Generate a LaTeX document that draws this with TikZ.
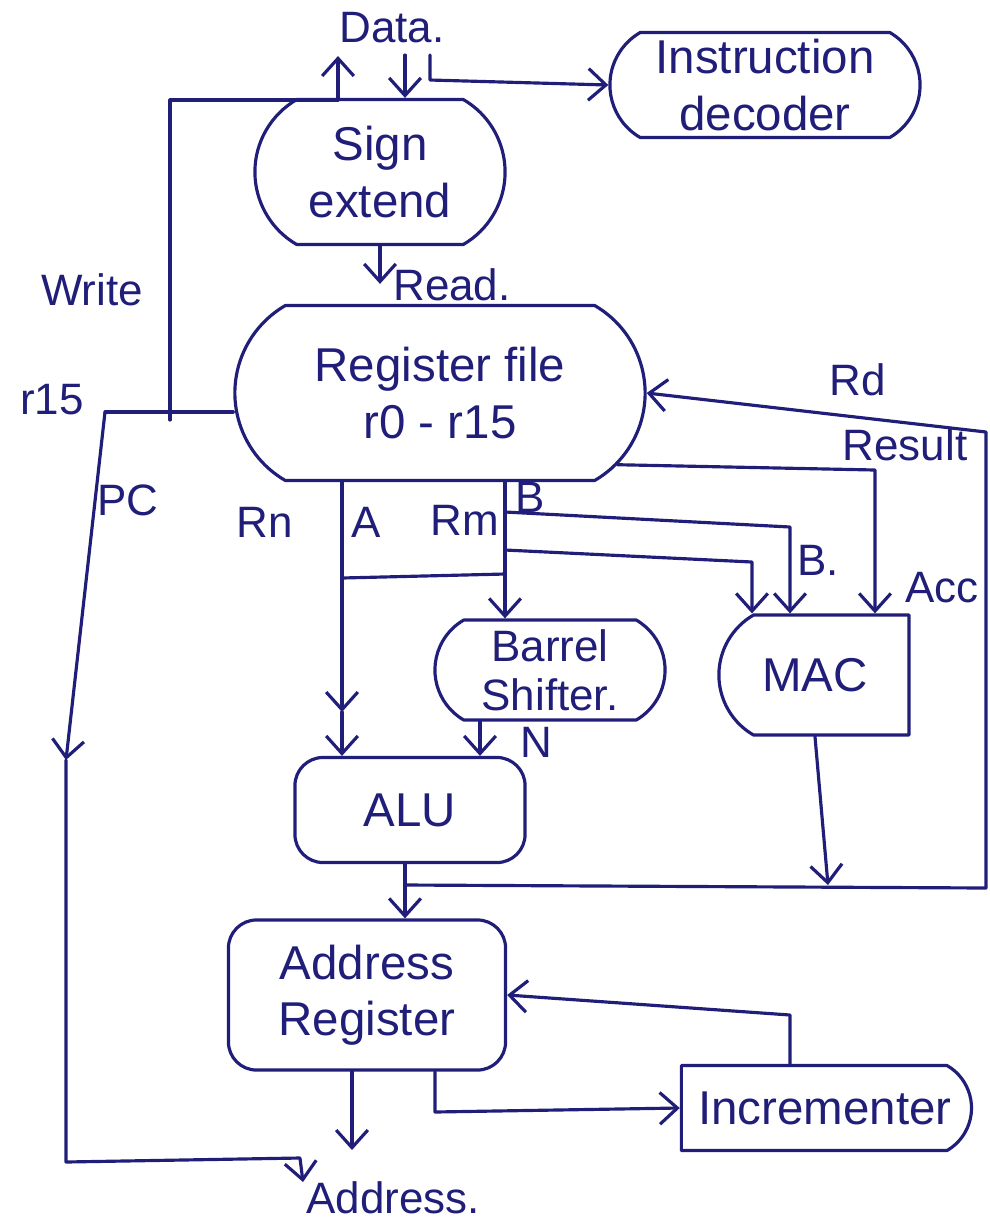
\documentclass[tikz,border=0pt]{standalone}
\usepackage{fontspec}
\setmainfont{Liberation Sans}
\usetikzlibrary{shapes.misc,arrows.meta,calc}
\definecolor{ink}{RGB}{32,30,120}
\begin{document}
\begin{tikzpicture}[x=0.01cm,y=-0.01cm,
  inkline/.style={draw=ink,line width=0.9pt,line cap=round,line join=round},
  >={Straight Barb[length=5pt,width=9pt]},
  every node/.style={text=ink,font=\fontsize{13.5}{16}\selectfont},
  blob/.style={inkline,rounded rectangle,rounded rectangle arc length=120,align=center,inner sep=0pt},
  boxr/.style={inkline,rectangle,rounded corners=8pt,align=center,inner sep=0pt},
  lbl/.style={font=\fontsize{12.5}{15}\selectfont}]
\useasboundingbox (0,0) rectangle (990,1229);

% functional blocks
\node[blob,minimum width=3.1cm,minimum height=1.05cm] (instr) at (765,85) {Instruction\\decoder};
\node[blob,minimum width=2.5cm,minimum height=1.45cm] (sign) at (380,172) {Sign\\extend};
\node[blob,minimum width=4.1cm,minimum height=1.75cm] (regfile) at (440,393) {Register file\\r0 - r15};
\node[blob,minimum width=2.3cm,minimum height=1.0cm,font=\fontsize{12.5}{14}\selectfont] (barrel) at (550,670) {Barrel\\Shifter.};
\node[blob,rounded rectangle right arc=none,minimum width=1.9cm,minimum height=1.2cm] (mac) at (815,675) {MAC};
\node[boxr,minimum width=2.3cm,minimum height=1.05cm] (alu) at (410,810) {ALU};
\node[boxr,minimum width=2.77cm,minimum height=1.5cm] (addrreg) at (367,995) {Address\\Register};
\node[blob,rounded rectangle left arc=none,minimum width=2.9cm,minimum height=0.85cm] (incr) at (825,1108) {Incrementer};

% labels
\node[lbl] (tData) at (392,28) {Data.};
\node[lbl] (tWrite) at (92,290) {Write};
\node[lbl] (tRead) at (452,285) {Read.};
\node[lbl] (tr15) at (52,400) {r15};
\node[lbl] (tPC) at (128,500) {PC};
\node[lbl] (tRn) at (265,522) {Rn};
\node[lbl] (tA) at (366,522) {A};
\node[lbl] (tRm) at (465,520) {Rm};
\node[lbl] (tB) at (530,497) {B};
\node[lbl] (tB2) at (818,560) {B.};
\node[lbl] (tAcc) at (942,588) {Acc};
\node[lbl] (tRd) at (858,380) {Rd};
\node[lbl] (tRes) at (905,445) {Result};
\node[lbl] (tN) at (536,742) {N};
\node[lbl] (tAddr) at (393,1198) {Address.};

% data bus: write out, data in, instruction fetch
\coordinate (wJoin) at (170,420);
\coordinate (wOut) at (338,56);
\draw[inkline,->] (wJoin) -- (170,100) -- (338,100) -- (wOut);
\coordinate (dIn) at (405,55);
\draw[inkline,->] (dIn) -- ($(sign.north)+(25,0)$);
\coordinate (iIn) at (430,55);
\draw[inkline,->] (iIn) -- (430,80) -- (instr.west);
\draw[inkline,->,shorten >=0.2cm] (sign.south) -- (sign.south |- regfile.north);

% r15 / PC path to the address bus
\coordinate (pcTop) at (105,412);
\coordinate (pcMid) at (66,760);
\coordinate (pcEnd) at (303,1182);
\draw[inkline] (regfile.west |- pcTop) -- (pcTop);
\draw[inkline,->] (pcTop) -- (pcMid);
\draw[inkline,->] (pcMid) -- (66,1162) -- (300,1158) -- (pcEnd);

% operand A (Rn)
\coordinate (aTop) at ($(regfile.south)+(-98,0)$);
\coordinate (aMid) at (342,712);
\coordinate (aBr) at (342,578);
\draw[inkline,->] (aTop) -- (aMid);
\draw[inkline,->] (aMid) -- ($(alu.north)+(-68,0)$);

% operand B (Rm)
\coordinate (bTop) at ($(regfile.south)+(65,0)$);
\coordinate (bBr) at (505,574);
\coordinate (bT1) at (505,512);
\coordinate (bT2) at (505,550);
\draw[inkline,->] (bTop) -- ($(barrel.north)+(-45,0)$);
\draw[inkline] (aBr) -- (bBr);
\draw[inkline,->] (bT1) -- (790,527) -- ($(mac.north)+(-25,0)$);
\draw[inkline,->] (bT2) -- (752,562) -- ($(mac.north)+(-63,0)$);

% accumulator
\draw[inkline,->] (regfile.-22) -- (875,470) -- ($(mac.north)+(60,0)$);

% barrel shifter to ALU
\draw[inkline,->] ($(barrel.south)+(-70,0)$) -- ($(alu.north)+(70,0)$);

% result bus back to Rd
\coordinate (resJ) at (405,885);
\coordinate (macJ) at (828,885);
\draw[inkline,->] (resJ) -- (986,888) -- (986,432) -- (regfile.east);
\draw[inkline,->] (mac.south) -- (macJ);

% ALU to address register
\draw[inkline,->] ($(alu.south)+(-5,0)$) -- ($(addrreg.north)+(38,0)$);

% address register, incrementer loop and address out
\coordinate (aOut) at (352,1150);
\draw[inkline,->] ($(addrreg.south)+(-15,0)$) -- (aOut);
\draw[inkline,->] ($(addrreg.south)+(68,0)$) -- (435,1112) -- (incr.west);
\draw[inkline,->] ($(incr.north)+(-35,0)$) -- (790,1015) -- (addrreg.east);
\end{tikzpicture}
\end{document}
